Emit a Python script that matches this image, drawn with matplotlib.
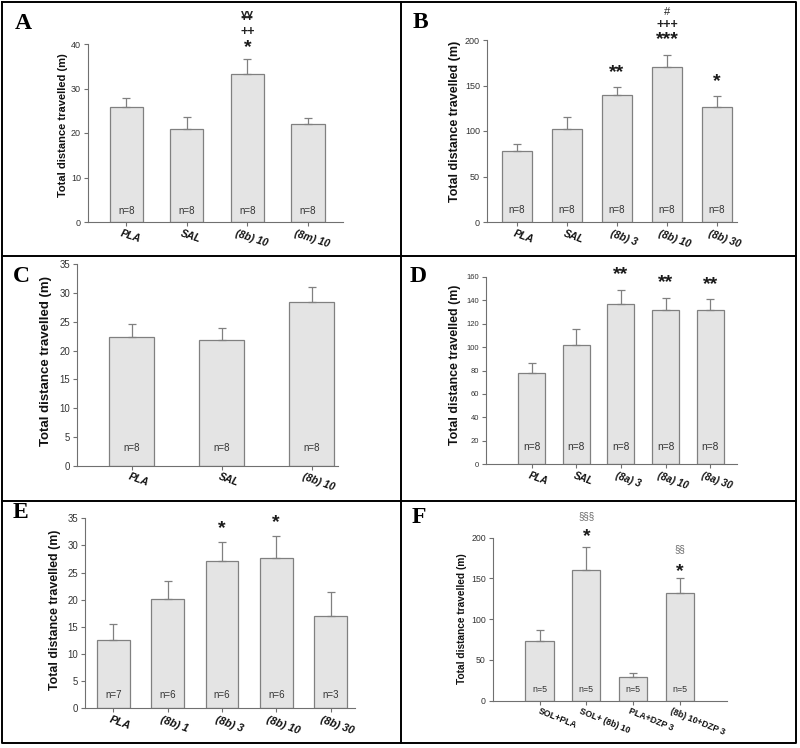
import numpy as np
import matplotlib.pyplot as plt
from matplotlib.lines import Line2D
from matplotlib import transforms

plt.rcParams['font.family'] = ['Liberation Sans', 'DejaVu Sans']

# data
a_labels = ["PLA", "SAL", "(8b) 10", "(8m) 10"]
a_means = [25.8, 20.8, 33.3, 22.0]
a_errs = [2.0, 2.9, 3.3, 1.3]
a_n = [8, 8, 8, 8]
a_notes = [(2, "*", 39.8), (2, "++", 43.0), (2, "¥¥", 46.4)]

b_labels = ["PLA", "SAL", "(8b) 3", "(8b) 10", "(8b) 30"]
b_means = [77.8, 101.7, 139.4, 170.6, 126.6]
b_errs = [8.4, 13.9, 9.2, 12.9, 11.7]
b_n = [8, 8, 8, 8, 8]
b_notes = [(2, "**", 167), (3, "***", 203.7), (3, "+++", 217.6), (3, "#", 232), (4, "*", 157.8)]

c_labels = ["PLA", "SAL", "(8b) 10"]
c_means = [22.3, 21.8, 28.5]
c_errs = [2.4, 2.1, 2.6]
c_n = [8, 8, 8]
c_notes = []

d_labels = ["PLA", "SAL", "(8a) 3", "(8a) 10", "(8a) 30"]
d_means = [77.6, 101.7, 136.4, 131.5, 131.3]
d_errs = [8.5, 13.4, 11.9, 10.0, 9.3]
d_n = [8, 8, 8, 8, 8]
d_notes = [(2, "**", 164.2), (3, "**", 157.7), (4, "**", 155.7)]

e_labels = ["PLA", "(8b) 1", "(8b) 3", "(8b) 10", "(8b) 30"]
e_means = [12.6, 20.1, 27.2, 27.6, 17.0]
e_errs = [2.9, 3.4, 3.5, 4.2, 4.5]
e_n = [7, 6, 6, 6, 3]
e_notes = [(2, "*", 33.6), (3, "*", 34.8)]

f_labels = ["SOL+PLA", "SOL+ (8b) 10", "PLA+DZP 3", "(8b) 10+DZP 3"]
f_means = [73.6, 160.3, 28.6, 131.7]
f_errs = [13.1, 28.7, 4.9, 18.4]
f_n = [5, 5, 5, 5]
f_notes = [(1, "*", 205), (1, "§§§", 226.6), (3, "*", 162.4), (3, "§§", 184.9)]

W, H = 800, 748
BAR = '#e4e4e4'
EDGE = '#808080'
AXC = '#707070'
TXT = '#333333'

# symbol style: fontsize, weight, colour, ink centre (fraction of em above baseline)
SYM = {'*': (14, 'bold', '#1a1a1a', 0.38),
       '+': (9, 'bold', '#222222', 0.35),
       '¥': (8.5, 'bold', '#222222', 0.36),
       '#': (8, 'normal', '#222222', 0.36),
       '§': (7, 'normal', '#666666', 0.27)}

fig = plt.figure(figsize=(8, 7.48), dpi=100)


def px_axes(x0, y0, x1, y1):
    return fig.add_axes([x0 / W, 1 - y1 / H, (x1 - x0) / W, (y1 - y0) / H])


def fig_line(xs, ys):
    fig.add_artist(Line2D([x / W for x in xs], [1 - y / H for y in ys],
                          color='black', lw=1.4))


def panel(letter, labels, means, errs, ns, notes, box, xlim, ylim, ystep, width,
          letter_xy, ylab_xy, ylab_fs, ytick_fs, xtick_fs, n_off, n_fs=7,
          rot=-20, italic=True, shift=7):
    ax = px_axes(*box)
    x = np.arange(len(labels))
    ax.bar(x, means, width, color=BAR, edgecolor=EDGE, linewidth=0.9, zorder=2)
    ax.errorbar(x, means, yerr=[np.zeros(len(errs)), errs], fmt='none',
                ecolor=EDGE, elinewidth=0.9, capsize=2.6, capthick=0.9, zorder=3)
    ax.set_xlim(*xlim)
    ax.set_ylim(*ylim)
    ax.set_yticks(np.arange(ylim[0], ylim[1] + 0.1, ystep))
    for s in ['top', 'right']:
        ax.spines[s].set_visible(False)
    for s in ['left', 'bottom']:
        ax.spines[s].set_color(AXC)
        ax.spines[s].set_linewidth(0.8)
    ax.tick_params(axis='y', length=3, width=0.8, color=AXC, labelsize=ytick_fs,
                   labelcolor=TXT, pad=2)
    ax.tick_params(axis='x', length=3, width=0.8, color=AXC, pad=1.5)
    ax.set_xticks(x, labels, rotation=rot, ha='center', fontsize=xtick_fs,
                  fontweight='bold', fontstyle='italic' if italic else 'normal')
    # nudge rotated labels to the right like the original
    off = transforms.ScaledTranslation(shift / 100, 0, fig.dpi_scale_trans)
    for lbl in ax.get_xticklabels():
        lbl.set_transform(lbl.get_transform() + off)
        lbl.set_color('#111111')

    for i, n in enumerate(ns):
        ax.annotate(f"n={n}", (i, 0), xytext=(0, n_off * 0.72), textcoords='offset points',
                    ha='center', va='center', fontsize=n_fs, color=TXT, zorder=4)

    for i, s, yv in notes:
        fs, wt, col, ink = SYM[s[0]]
        ax.annotate(s, (i, yv), xytext=(0, -ink * fs), textcoords='offset points',
                    ha='center', va='baseline', fontsize=fs, fontweight=wt, color=col,
                    annotation_clip=False)

    fig.text(ylab_xy[0] / W, 1 - ylab_xy[1] / H, "Total distance travelled (m)",
             rotation=90, ha='center', va='center', fontsize=ylab_fs,
             fontweight='bold', color='#111111')
    fig.text(letter_xy[0] / W, 1 - letter_xy[1] / H, letter, family='Liberation Serif',
             fontweight='bold', fontsize=17, ha='left', va='baseline')
    return ax


panel("A", a_labels, a_means, a_errs, a_n, a_notes,
      box=(88, 44, 343, 222), xlim=(-0.63, 3.58), ylim=(0, 40), ystep=10, width=0.55,
      letter_xy=(15, 29), ylab_xy=(63, 125), ylab_fs=8, ytick_fs=6.5, xtick_fs=7.5,
      n_off=11, rot=-18, shift=4)
panel("B", b_labels, b_means, b_errs, b_n, b_notes,
      box=(487, 40, 737, 222), xlim=(-0.6, 4.4), ylim=(0, 200), ystep=50, width=0.6,
      letter_xy=(413, 28), ylab_xy=(455, 121), ylab_fs=9, ytick_fs=6.5, xtick_fs=7.5,
      n_off=12)
panel("C", c_labels, c_means, c_errs, c_n, c_notes,
      box=(77, 264.3, 338, 465.7), xlim=(-0.61, 2.29), ylim=(0, 35), ystep=5, width=0.5,
      letter_xy=(13, 282), ylab_xy=(46, 361), ylab_fs=9.5, ytick_fs=6.9, xtick_fs=7.5,
      n_off=18)
panel("D", d_labels, d_means, d_errs, d_n, d_notes,
      box=(486, 276.7, 737, 464.3), xlim=(-1.02, 4.6), ylim=(0, 160), ystep=20, width=0.6,
      letter_xy=(410, 282), ylab_xy=(455, 365), ylab_fs=8.9, ytick_fs=5.5, xtick_fs=7.2,
      n_off=17, n_fs=7.3)
panel("E", e_labels, e_means, e_errs, e_n, e_notes,
      box=(85, 518.3, 355, 708.3), xlim=(-0.52, 4.45), ylim=(0, 35), ystep=5, width=0.6,
      letter_xy=(13, 518), ylab_xy=(55, 610), ylab_fs=8.9, ytick_fs=6.9, xtick_fs=7.8,
      n_off=13)
panel("F", f_labels, f_means, f_errs, f_n, f_notes,
      box=(492.7, 537.7, 726.7, 700.7), xlim=(-1.0, 4.0), ylim=(0, 200), ystep=50, width=0.6,
      letter_xy=(412, 523), ylab_xy=(462, 619), ylab_fs=7.3, ytick_fs=6.3, xtick_fs=6.3,
      n_off=11, n_fs=6.4, rot=-22, italic=False, shift=18)

# panel frames
fig_line([2, 796, 796, 2, 2], [2, 2, 743, 743, 2])
fig_line([401, 401], [2, 743])
fig_line([2, 796], [256, 256])
fig_line([2, 796], [501, 501])

fig.savefig("out.png", dpi=100)
